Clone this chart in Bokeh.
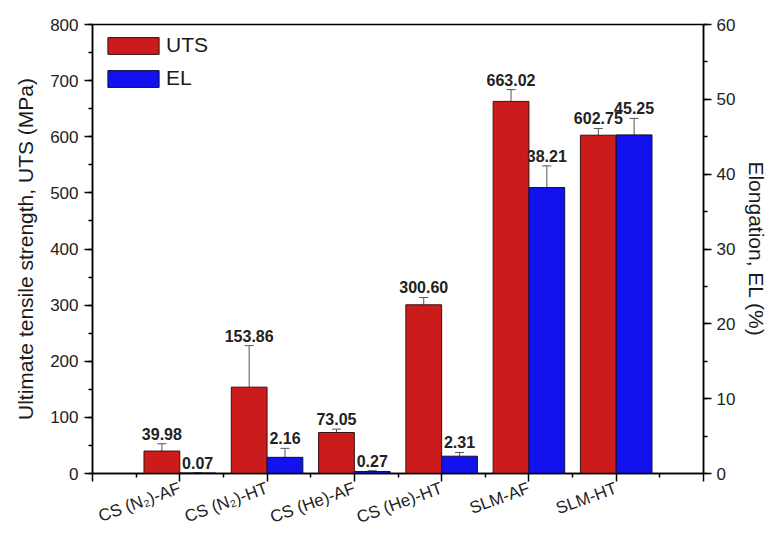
import math
from bokeh.plotting import figure
from bokeh.models import (Range1d, LinearAxis, FixedTicker, SingleIntervalTicker,
                          ColumnDataSource, Whisker, TeeHead, Legend, LegendItem)
from bokeh.embed import file_html
from bokeh.resources import INLINE
from bokeh.core.properties import value

categories = ["CS (N₂)-AF", "CS (N₂)-HT", "CS (He)-AF", "CS (He)-HT", "SLM-AF", "SLM-HT"]
uts = [39.98, 153.86, 73.05, 300.60, 663.02, 602.75]
uts_err = [13, 74, 6, 13, 21, 12]
el = [0.07, 2.16, 0.27, 2.31, 38.21, 45.25]
el_err = [0.05, 1.2, 0.1, 0.5, 2.9, 2.2]

FONT = "Liberation Sans"
RED = "#CC1B1B"
BLUE = "#1212EE"
BW = 0.41

idx = list(range(1, len(categories) + 1))
src_u = ColumnDataSource(dict(
    x=[i - BW / 2 for i in idx], top=uts,
    up=[v + e for v, e in zip(uts, uts_err)], lo=[v - e for v, e in zip(uts, uts_err)],
    lab=["%.2f" % v for v in uts]))
src_e = ColumnDataSource(dict(
    x=[i + BW / 2 for i in idx], top=el,
    up=[v + e for v, e in zip(el, el_err)], lo=[max(v - e, 0) for v, e in zip(el, el_err)],
    lab=["%.2f" % v for v in el]))

p = figure(width=772, height=539, output_backend="svg", toolbar_location=None,
           x_range=Range1d(0, 7), y_range=Range1d(0, 800),
           min_border_left=92, min_border_right=69, min_border_top=24, min_border_bottom=65)
p.extra_y_ranges = {"el": Range1d(0, 60)}
p.xgrid.visible = False
p.ygrid.visible = False
p.outline_line_color = "black"
p.outline_line_width = 1.5
p.background_fill_color = "white"

r1 = p.vbar(x="x", top="top", width=BW, source=src_u, fill_color=RED,
            line_color="#3a1010", line_width=1)
r2 = p.vbar(x="x", top="top", width=BW, source=src_e, fill_color=BLUE,
            line_color="#10103a", line_width=1, y_range_name="el")

for src, rng in ((src_u, "default"), (src_e, "el")):
    w = Whisker(source=src, base="x", upper="up", lower="lo", dimension="height",
                line_color="#555555", line_width=1, y_range_name=rng,
                upper_head=TeeHead(size=9, line_color="#555555", line_width=1),
                lower_head=TeeHead(size=9, line_color="#555555", line_width=1))
    p.add_layout(w)
    p.text(x="x", y="up", text="lab", source=src, y_range_name=rng,
           text_font=value(FONT), text_font_style="bold", text_font_size="16px",
           text_color="#222222", text_align="center", text_baseline="alphabetic",
           y_offset=-10)

def style_axis(ax):
    ax.axis_line_color = "black"
    ax.axis_line_width = 1.5
    ax.major_tick_line_color = "black"
    ax.major_tick_line_width = 1.5
    ax.minor_tick_line_color = "black"
    ax.minor_tick_line_width = 1.5
    ax.major_tick_in = 0
    ax.major_tick_out = 8
    ax.minor_tick_in = 0
    ax.minor_tick_out = 4
    ax.major_label_text_font = FONT
    ax.major_label_text_font_size = "17px"
    ax.major_label_text_color = "#222222"
    ax.axis_label_text_font = FONT
    ax.axis_label_text_font_size = "21px"
    ax.axis_label_text_font_style = "normal"
    ax.axis_label_text_color = "#1a1a1a"

# x axis
xa = p.xaxis[0]
xa.ticker = FixedTicker(ticks=list(range(0, 8)), minor_ticks=[i + 0.5 for i in range(7)])
overrides = {0: "", 7: ""}
for i, c in zip(idx, categories):
    overrides[i] = c
xa.major_label_overrides = overrides
xa.major_label_orientation = math.radians(20)
style_axis(xa)
xa.major_label_standoff = 6

# left y axis
ya = p.yaxis[0]
ya.ticker = SingleIntervalTicker(interval=100, num_minor_ticks=2)
ya.axis_label = "Ultimate tensile strength, UTS (MPa)"
ya.major_label_standoff = 6
ya.axis_label_standoff = 10
style_axis(ya)

# right y axis
ra = LinearAxis(y_range_name="el", ticker=SingleIntervalTicker(interval=10, num_minor_ticks=2),
                axis_label="Elongation, EL (%)")
style_axis(ra)
ra.major_label_standoff = 5
ra.axis_label_standoff = 7
p.add_layout(ra, "right")

legend = Legend(items=[LegendItem(label="UTS", renderers=[r1]),
                       LegendItem(label="EL", renderers=[r2])],
                location="top_left", margin=9, padding=1, spacing=9,
                glyph_width=64, glyph_height=21, label_height=21, label_standoff=1,
                label_text_font=FONT, label_text_font_size="21px",
                label_text_color="#1a1a1a",
                border_line_color=None, background_fill_alpha=0)
p.add_layout(legend)

open("out.html", "w").write(file_html(p, INLINE))
